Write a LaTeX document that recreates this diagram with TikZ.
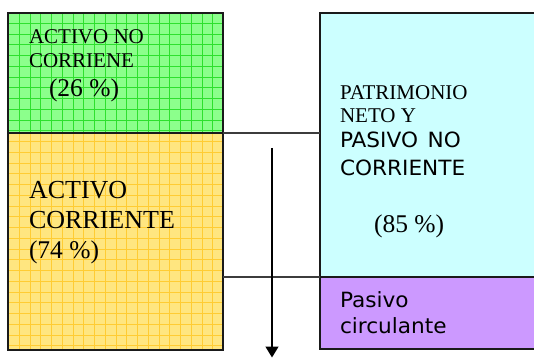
\documentclass[tikz,border=0pt]{standalone}
\usepackage{fontspec}
\setmainfont{Liberation Serif}
\newfontfamily\verd[FakeStretch=1.03, WordSpace=1.4]{DejaVu Sans}
\usetikzlibrary{arrows.meta}
\definecolor{gfill}{HTML}{8CFF8C}
\definecolor{ggrid}{HTML}{2EE02E}
\definecolor{yfill}{HTML}{FFE680}
\definecolor{ygrid}{HTML}{FFCC33}
\definecolor{cfill}{HTML}{CCFFFF}
\definecolor{pfill}{HTML}{CC99FF}
\definecolor{edge}{HTML}{1A1A1A}
\tikzset{
  box/.style={inner sep=0pt, outer sep=0pt, anchor=north west},
  border/.style={draw=edge, line width=1.8pt},
  link/.style={draw=edge!85, line width=1.3pt},
  txt/.style={inner sep=0pt, outer sep=0pt, anchor=base west, text=black},
  gridline/.style={line width=0.7pt},
}
\begin{document}
\begin{tikzpicture}[x=1pt,y=1pt]
\useasboundingbox (0,0) rectangle (534,358);
\begin{scope}
\clip (0,0) rectangle (534,358);
% boxes
\node[box, fill=gfill, minimum width=215pt, minimum height=120pt] (green) at (8,345) {};
\node[box, fill=yfill, minimum width=215pt, minimum height=217pt] (yellow) at (8,225) {};
\node[box, fill=cfill, minimum width=240pt, minimum height=264pt] (cyan) at (320,345) {};
\node[box, fill=pfill, minimum width=240pt, minimum height=72pt] (purple) at (320,81) {};
% grid textures
\begin{scope}
\clip (green.south west) rectangle (green.north east);
\draw[gridline, ggrid, shift={(8.5,1.5)}] (0,220) grid[step=10.75pt] (230,360);
\end{scope}
\begin{scope}
\clip (yellow.south west) rectangle (yellow.north east);
\draw[gridline, ygrid, shift={(8.5,1.5)}] (0,0) grid[step=10.75pt] (230,230);
\end{scope}
% borders
\draw[border] (green.south west) rectangle (green.north east);
\draw[border] (yellow.south west) rectangle (yellow.north east);
\draw[border] (cyan.south west) rectangle (cyan.north east);
\draw[border] (purple.south west) rectangle (purple.north east);
% connecting lines
\draw[link] (green.south east) -- (cyan.west |- green.south east);
\draw[link] (yellow.east |- purple.north west) -- (purple.north west);
% arrow
\coordinate (atop) at (272,210);
\coordinate (abot) at (272,0.5);
\draw[line width=1.5pt, -{Triangle[width=13pt,length=11pt]}] (atop) -- (abot);
\end{scope}
% texts
\node[txt, font=\fontsize{21}{21}\selectfont] (t1) at (29,314) {ACTIVO NO};
\node[txt, font=\fontsize{21}{21}\selectfont] (t2) at (29,290) {CORRIENE};
\node[txt, font=\fontsize{25.5}{25.5}\selectfont] (t3) at (49,261) {(26 \%)};
\node[txt, font=\fontsize{26}{26}\selectfont] (t4) at (29,159) {ACTIVO};
\node[txt, font=\fontsize{26}{26}\selectfont] (t5) at (29,129) {CORRIENTE};
\node[txt, font=\fontsize{25.5}{25.5}\selectfont] (t6) at (29,99) {(74 \%)};
\node[txt, font=\fontsize{21}{21}\selectfont] (t7) at (340,258) {PATRIMONIO};
\node[txt, font=\fontsize{21}{21}\selectfont] (t8) at (340,235) {NETO Y};
\node[txt, font=\verd\fontsize{21}{21}\selectfont] (t9) at (340,210) {PASIVO NO};
\node[txt, font=\verd\fontsize{21}{21}\selectfont] (t10) at (340,182) {CORRIENTE};
\node[txt, font=\fontsize{25.5}{25.5}\selectfont] (t11) at (374,125) {(85 \%)};
\node[txt, font=\verd\fontsize{21}{21}\selectfont] (t12) at (340,50) {Pasivo};
\node[txt, font=\verd\fontsize{21}{21}\selectfont] (t13) at (340,24) {circulante};
\end{tikzpicture}
\end{document}
